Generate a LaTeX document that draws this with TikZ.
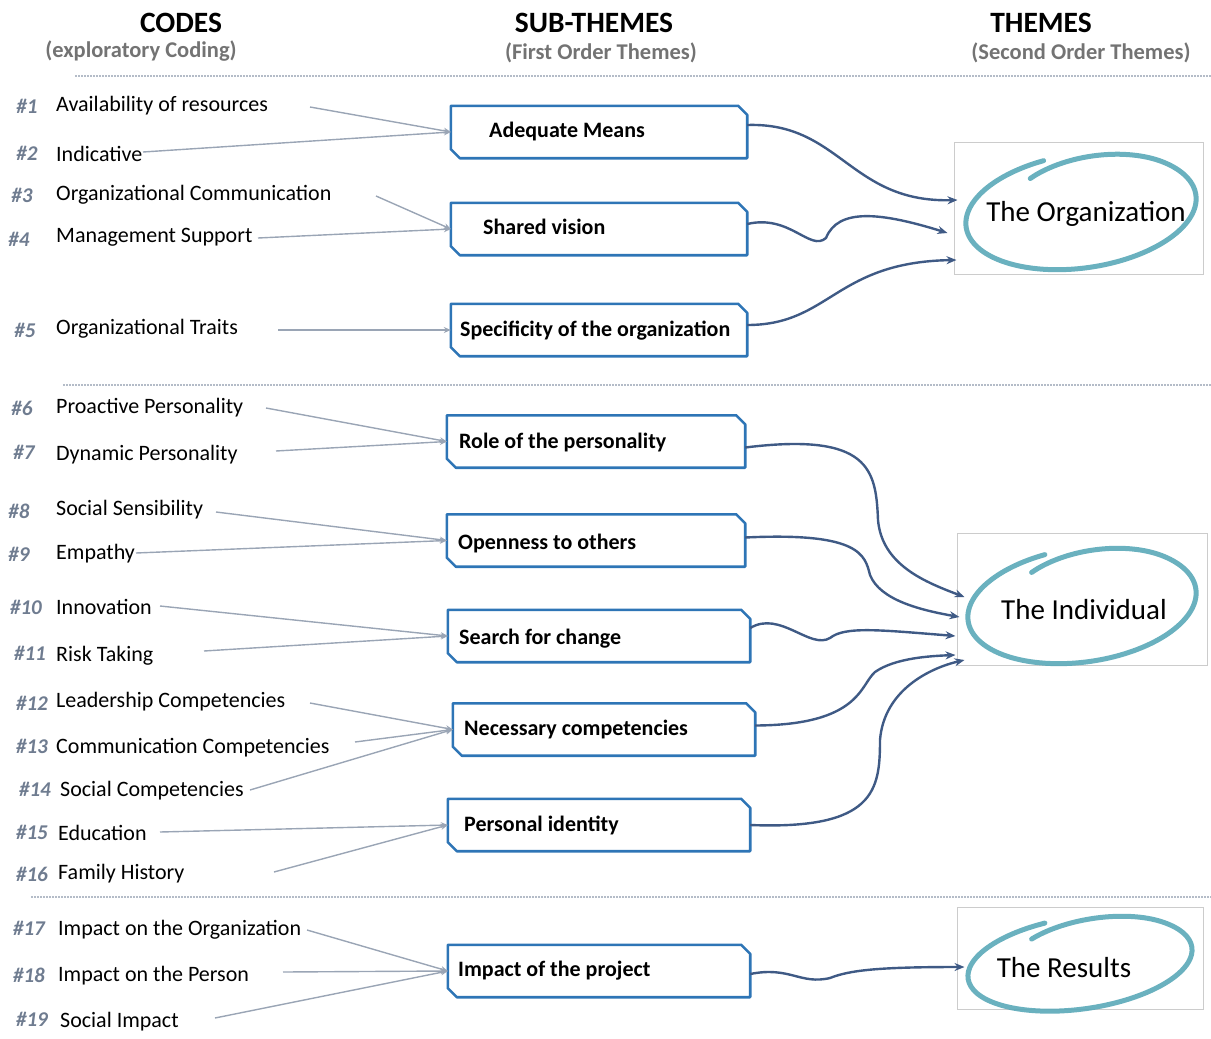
\documentclass[tikz,border=0pt]{standalone}
\usepackage{fontspec}
\setmainfont{Carlito}
\usetikzlibrary{arrows.meta}
\definecolor{boxblue}{HTML}{2E75B6}
\definecolor{linkblue}{HTML}{3F5A85}
\definecolor{codegray}{HTML}{9AA5B5}
\definecolor{numgray}{HTML}{6F7C90}
\definecolor{ringteal}{HTML}{5AA8B8}
\definecolor{divgray}{HTML}{B4BCC8}
\newcommand{\chamfbox}[1]{%
  \draw[subline] (#1.north west) -- ([xshift=-9pt]#1.north east) -- ([yshift=-9pt]#1.north east)
    -- (#1.south east) -- ([xshift=9pt]#1.south west) -- ([yshift=9pt]#1.south west) -- cycle;}
\begin{document}
\begin{tikzpicture}[x=1pt,y=-1pt,
  hdr/.style={font=\fontsize{29.5}{31}\selectfont\bfseries, inner sep=0pt},
  subhdr/.style={font=\fontsize{22.5}{24}\selectfont\bfseries, text=black!55, inner sep=0pt},
  codetxt/.style={anchor=west, font=\fontsize{22}{24}\selectfont, inner sep=0pt, yshift=-2pt},
  num/.style={font=\fontsize{21}{23}\selectfont\itshape\bfseries, text=numgray, inner sep=0pt},
  subbox/.style={rectangle, minimum height=52pt, inner sep=0pt},
  subline/.style={draw=boxblue, line width=2.6pt, line join=round, fill=white},
  subtxt/.style={anchor=west, font=\fontsize{22}{24}\selectfont\bfseries, inner sep=0pt, yshift=-2pt},
  themebox/.style={draw=black!20, line width=1pt, inner sep=0pt},
  themetxt/.style={font=\fontsize{29}{31}\selectfont, inner sep=0pt, yshift=-1pt},
  ring/.style={draw=ringteal, line width=5pt, line cap=round, opacity=0.9},
  codelink/.style={draw=codegray, line width=1.4pt, -{Stealth[length=7pt,width=6pt]}},
  themelink/.style={draw=linkblue, line width=2.4pt, -{Stealth[length=10pt,width=8pt]}},
  divider/.style={draw=divgray, line width=1.6pt, dash pattern=on 2pt off 1pt}
]
\useasboundingbox (0,0) rectangle (1211,1039);

% headers
\node[hdr] (h1) at (181,23) {CODES};
\node[subhdr] (h1s) at (141,51) {(exploratory Coding)};
\node[hdr] (h2) at (594,23) {SUB-THEMES};
\node[subhdr] (h2s) at (601,53) {(First Order Themes)};
\node[hdr] (h3) at (1041,23) {THEMES};
\node[subhdr] (h3s) at (1081,53) {(Second Order Themes)};

% dividers
\coordinate (d1a) at (75,76);  \coordinate (d1b) at (1211,76);
\coordinate (d2a) at (63,385); \coordinate (d2b) at (1211,385);
\coordinate (d3a) at (31,897); \coordinate (d3b) at (1211,897);
\draw[divider] (d1a) -- (d1b);
\draw[divider] (d2a) -- (d2b);
\draw[divider] (d3a) -- (d3b);

% code numbers
\node[num] (n1) at (27,106) {\#1};
\node[num] (n2) at (27,153) {\#2};
\node[num] (n3) at (22,195) {\#3};
\node[num] (n4) at (19,239) {\#4};
\node[num] (n5) at (25,330) {\#5};
\node[num] (n6) at (22,408) {\#6};
\node[num] (n7) at (24,452) {\#7};
\node[num] (n8) at (19,511) {\#8};
\node[num] (n9) at (19,554) {\#9};
\node[num] (n10) at (26,607) {\#10};
\node[num] (n11) at (30,653) {\#11};
\node[num] (n12) at (32,703) {\#12};
\node[num] (n13) at (32,746) {\#13};
\node[num] (n14) at (35,789) {\#14};
\node[num] (n15) at (32,832) {\#15};
\node[num] (n16) at (32,874) {\#16};
\node[num] (n17) at (29,928) {\#17};
\node[num] (n18) at (29,975) {\#18};
\node[num] (n19) at (32,1019) {\#19};

% code texts
\node[codetxt] (c1) at (56,104) {Availability of resources};
\node[codetxt] (c2) at (56,152) {Indicative};
\node[codetxt] (c3) at (56,193) {Organizational Communication};
\node[codetxt] (c4) at (56,235) {Management Support};
\node[codetxt] (c5) at (56,327) {Organizational Traits};
\node[codetxt] (c6) at (56,406) {Proactive Personality};
\node[codetxt] (c7) at (56,453) {Dynamic Personality};
\node[codetxt] (c8) at (56,508) {Social Sensibility};
\node[codetxt] (c9) at (56,552) {Empathy};
\node[codetxt] (c10) at (56,605) {Innovation};
\node[codetxt] (c11) at (56,654) {Risk Taking};
\node[codetxt] (c12) at (56,700) {Leadership Competencies};
\node[codetxt] (c13) at (56,746) {Communication Competencies};
\node[codetxt] (c14) at (60,789) {Social Competencies};
\node[codetxt] (c15) at (58,831) {Education};
\node[codetxt] (c16) at (58,872) {Family History};
\node[codetxt] (c17) at (58,928) {Impact on the Organization};
\node[codetxt] (c18) at (58,974) {Impact on the Person};
\node[codetxt] (c19) at (60,1020) {Social Impact};

% sub-theme boxes
\node[subbox, minimum width=296pt] (am) at (599,132) {};
\node[subbox, minimum width=296pt] (sv) at (599,229) {};
\node[subbox, minimum width=296pt] (spec) at (599,330) {};
\node[subbox, minimum width=298pt] (role) at (596,441.5) {};
\node[subbox, minimum width=298pt] (open) at (596,540.5) {};
\node[subbox, minimum width=302pt] (search) at (599,636) {};
\node[subbox, minimum width=302pt] (nec) at (604,729.5) {};
\node[subbox, minimum width=302pt] (pers) at (599,825) {};
\node[subbox, minimum width=302pt] (imp) at (599,971) {};
\chamfbox{am}\chamfbox{sv}\chamfbox{spec}\chamfbox{role}\chamfbox{open}
\chamfbox{search}\chamfbox{nec}\chamfbox{pers}\chamfbox{imp}

\node[subtxt] (tam) at (489,130) {Adequate Means};
\node[subtxt] (tsv) at (483,225) {Shared vision};
\node[subtxt] (tspec) at (460,329) {Specificity of the organization};
\node[subtxt] (trole) at (459,441) {Role of the personality};
\node[subtxt] (topen) at (458,542) {Openness to others};
\node[subtxt] (tsearch) at (459,637) {Search for change};
\node[subtxt] (tnec) at (464,728) {Necessary competencies};
\node[subtxt] (tpers) at (464,823) {Personal identity};
\node[subtxt] (timp) at (458,969) {Impact of the project};

% theme boxes
\node[themebox, minimum width=249pt, minimum height=132pt] (org) at (1078.5,208) {};
\node[themebox, minimum width=250pt, minimum height=132pt] (ind) at (1082,599) {};
\node[themebox, minimum width=246pt, minimum height=102pt] (res) at (1080,958) {};

% rings
\draw[ring, rotate around={8:(1081,211)}] plot[smooth, domain=105:478, samples=80]
  ({1081 + 116*(1-0.16*max(0,(\x-400)/78)^2)*cos(\x)}, {211 - 57*(1-0.22*max(0,(\x-400)/78)^2)*sin(\x)});
\draw[ring, rotate around={8:(1082,605)}] plot[smooth, domain=105:478, samples=80]
  ({1082 + 115*(1-0.16*max(0,(\x-400)/78)^2)*cos(\x)}, {605 - 57*(1-0.22*max(0,(\x-400)/78)^2)*sin(\x)});
\draw[ring, rotate around={8:(1080,963)}] plot[smooth, domain=105:478, samples=80]
  ({1080 + 113*(1-0.16*max(0,(\x-400)/78)^2)*cos(\x)}, {963 - 46*(1-0.25*max(0,(\x-400)/78)^2)*sin(\x)});

\node[themetxt] (torg) at (1086,213) {The Organization};
\node[themetxt] (tind) at (1084,609) {The Individual};
\node[themetxt] (tres) at (1064,967) {The Results};

% free ends of code connectors
\coordinate (a1) at (310,107);
\coordinate (a2) at (143,152);
\coordinate (a3) at (376,196);
\coordinate (a4) at (258,238);
\coordinate (a5) at (278,330);
\coordinate (a6) at (266,408);
\coordinate (a7) at (276,451);
\coordinate (a8) at (216,512);
\coordinate (a9) at (136,553);
\coordinate (a10) at (160,606);
\coordinate (a11) at (204,651);
\coordinate (a12) at (310,703);
\coordinate (a13) at (355,742);
\coordinate (a14) at (250,790);
\coordinate (a15) at (160,832);
\coordinate (a16) at (274,872);
\coordinate (a17) at (307,930);
\coordinate (a18) at (283,972);
\coordinate (a19) at (215,1018);

\draw[codelink] (a1) -- (am.west);
\draw[codelink] (a2) -- (am.west);
\draw[codelink] (a3) -- (sv.west);
\draw[codelink] (a4) -- (sv.west);
\draw[codelink] (a5) -- (spec.west);
\draw[codelink] (a6) -- (role.west);
\draw[codelink] (a7) -- (role.west);
\draw[codelink] (a8) -- (open.west);
\draw[codelink] (a9) -- (open.west);
\draw[codelink] (a10) -- (search.west);
\draw[codelink] (a11) -- (search.west);
\draw[codelink] (a12) -- (nec.west);
\draw[codelink] (a13) -- (nec.west);
\draw[codelink] (a14) -- (nec.west);
\draw[codelink] (a15) -- (pers.west);
\draw[codelink] (a16) -- (pers.west);
\draw[codelink] (a17) -- (imp.west);
\draw[codelink] (a18) -- (imp.west);
\draw[codelink] (a19) -- (imp.west);

% theme connectors
\draw[themelink] ([yshift=7pt]am.east) .. controls (840,122) and (850,203) .. ([yshift=8pt, xshift=4pt]org.west);
\draw[themelink] ([yshift=5pt]sv.east) .. controls (790,214) and (810,252) .. (826,238)
   .. controls (838,208) and (880,212) .. ([yshift=-25pt, xshift=-6pt]org.west);
\draw[themelink] ([yshift=5pt]spec.east) .. controls (830,325) and (835,262) .. ([yshift=-52pt, xshift=3pt]org.west);
\draw[themelink] ([yshift=-6pt]role.east) .. controls (870,432) and (876,470) .. (878,520)
   .. controls (882,565) and (925,582) .. ([yshift=2pt, xshift=8pt]ind.west);
\draw[themelink] ([yshift=3pt]open.east) .. controls (860,532) and (865,555) .. (870,575)
   .. controls (880,600) and (920,610) .. ([yshift=-18pt, xshift=3pt]ind.west);
\draw[themelink] ([yshift=8pt]search.east) .. controls (780,610) and (810,650) .. (830,638)
   .. controls (845,626) and (880,630) .. ([yshift=-37pt, xshift=-1pt]ind.west);
\draw[themelink] ([yshift=4pt]nec.east) .. controls (860,725) and (860,685) .. (875,672)
   .. controls (895,658) and (930,656) .. ([yshift=-56pt, xshift=-1pt]ind.west);
\draw[themelink] (pers.east) .. controls (875,830) and (880,790) .. (880,740)
   .. controls (884,690) and (930,668) .. ([yshift=-61pt, xshift=8pt]ind.west);
\draw[themelink] ([yshift=-3pt]imp.east) .. controls (790,966) and (800,985) .. (830,978)
   .. controls (850,970) and (880,967) .. ([yshift=-9pt, xshift=8pt]res.west);
\end{tikzpicture}
\end{document}
